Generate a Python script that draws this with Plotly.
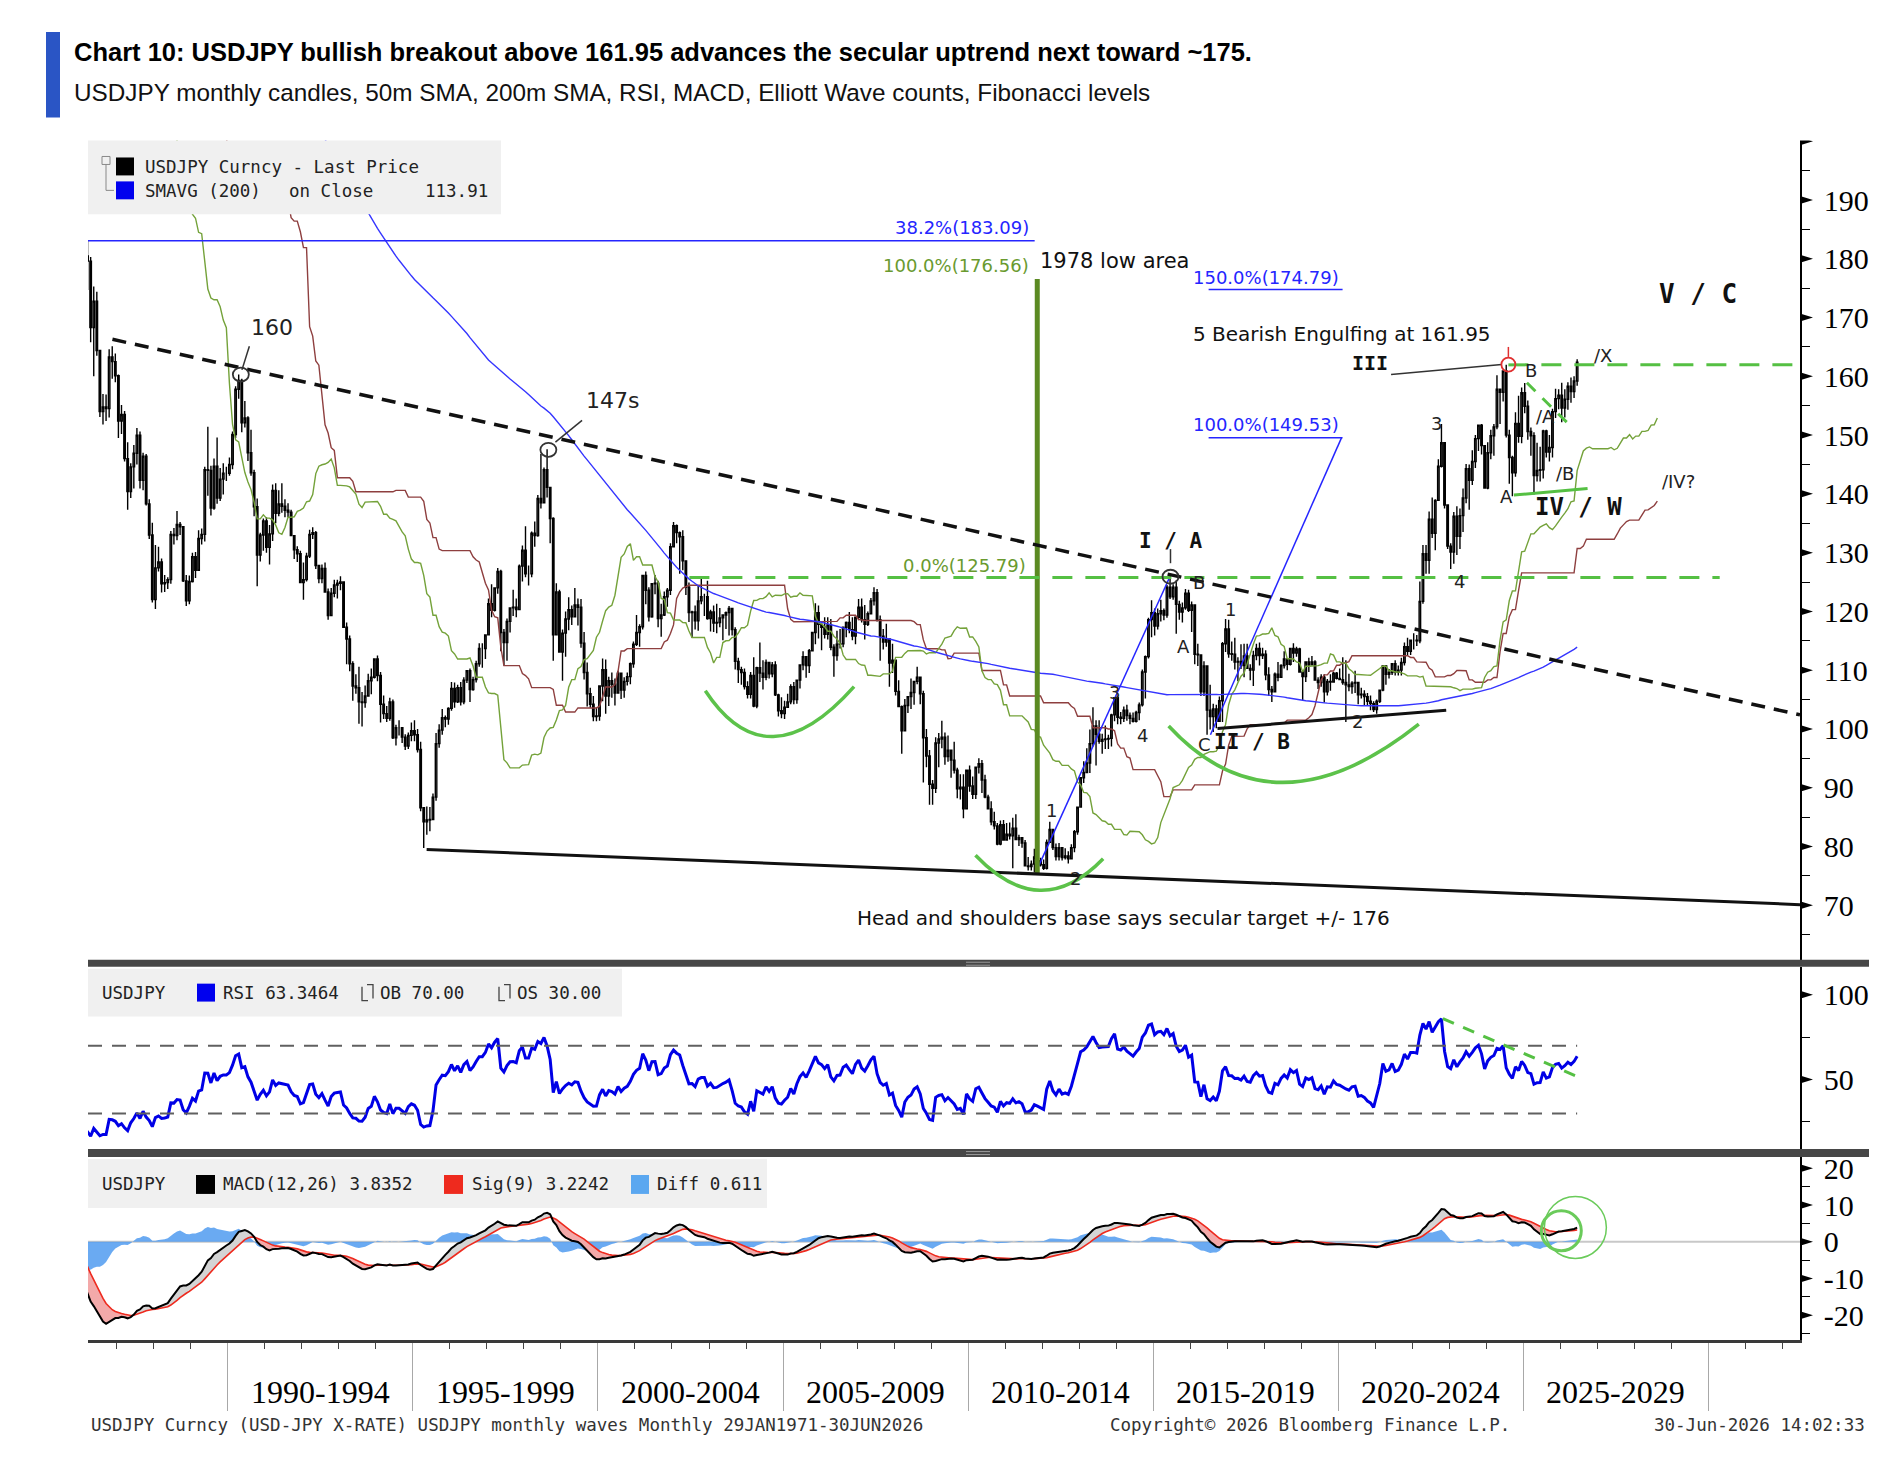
import numpy as np
import pandas as pd
import plotly.graph_objects as go

W, H = 1890, 1464

# ---------------- DATA: USDJPY monthly ----------------
# Monthly closes Jan 1971 - Dec 1983 (history used by the 200m SMA / oscillators only)
close_1971_1983 = [
    [357.5, 357.6, 357.5, 357.4, 357.4, 357.4, 357.3, 342.0, 335.0, 328.0, 327.0, 315.0],
    [308.0, 304.0, 301.0, 304.0, 302.0, 301.0, 301.0, 301.0, 301.0, 302.0, 301.0, 302.0],
    [301.0, 270.0, 263.0, 266.0, 265.0, 265.0, 264.0, 265.0, 266.0, 270.0, 278.0, 280.0],
    [298.0, 285.0, 277.0, 278.0, 281.0, 284.0, 298.0, 302.0, 298.0, 299.0, 300.0, 300.0],
    [297.0, 286.0, 291.0, 292.0, 291.0, 296.0, 297.0, 298.0, 302.0, 302.0, 302.0, 305.0],
    [304.0, 302.0, 299.0, 299.0, 300.0, 297.0, 293.0, 288.0, 287.0, 294.0, 295.0, 293.0],
    [288.0, 283.0, 277.0, 278.0, 276.0, 266.0, 267.0, 267.0, 265.0, 250.0, 245.0, 240.0],
    [241.0, 237.0, 222.0, 223.0, 223.0, 205.0, 190.0, 191.0, 189.0, 177.0, 197.0, 195.0],
    [199.0, 201.0, 209.0, 219.0, 220.0, 217.0, 217.0, 220.0, 224.0, 239.0, 249.0, 240.0],
    [238.0, 250.0, 249.0, 241.0, 223.0, 217.0, 222.0, 216.0, 210.0, 211.0, 214.0, 203.0],
    [204.0, 203.0, 210.0, 215.0, 224.0, 224.0, 239.0, 230.0, 231.0, 233.0, 216.0, 220.0],
    [229.0, 235.0, 247.0, 238.0, 238.0, 256.0, 256.0, 260.0, 268.0, 273.0, 247.0, 235.0],
    [235.0, 237.0, 239.0, 237.0, 239.0, 240.0, 241.0, 246.0, 236.0, 234.0, 235.0, 232.0],
]

# Monthly close / high / low, Jan 1984 - Jun 2026
close_1984_2026 = [
    [233.6, 233.5, 225.0, 225.8, 234.2, 237.5, 245.1, 241.9, 246.6, 245.9, 246.7, 251.1],
    [254.2, 259.0, 251.5, 251.8, 251.4, 248.8, 236.9, 237.1, 216.6, 211.6, 202.3, 200.5],
    [192.1, 180.5, 179.6, 168.3, 172.8, 164.4, 154.0, 154.8, 154.5, 163.3, 162.5, 160.1],
    [152.4, 153.5, 146.0, 140.4, 144.6, 146.9, 150.0, 142.3, 146.4, 138.3, 133.0, 122.0],
    [127.4, 128.4, 124.7, 124.9, 125.4, 133.1, 132.9, 134.8, 134.4, 125.2, 121.8, 125.1],
    [129.3, 127.0, 132.4, 133.1, 144.1, 144.0, 137.6, 144.7, 139.3, 142.5, 143.5, 143.5],
    [145.0, 150.1, 157.8, 159.3, 152.1, 152.9, 147.0, 143.6, 137.8, 129.6, 133.0, 135.4],
    [130.9, 133.2, 140.6, 136.7, 138.3, 137.9, 137.2, 136.9, 132.9, 130.5, 129.8, 124.9],
    [125.4, 129.4, 133.1, 133.4, 127.8, 125.6, 127.3, 123.3, 119.3, 123.1, 124.5, 124.8],
    [125.0, 117.3, 115.3, 111.1, 107.3, 107.0, 104.6, 104.5, 105.6, 108.2, 108.8, 111.9],
    [109.1, 104.2, 102.6, 101.8, 104.6, 98.5, 100.2, 100.2, 98.6, 97.1, 98.9, 99.7],
    [99.0, 96.5, 86.6, 84.2, 84.5, 84.6, 88.4, 97.5, 99.8, 101.9, 101.7, 103.5],
    [106.9, 104.6, 107.0, 104.6, 108.3, 109.9, 106.7, 108.4, 111.1, 113.7, 113.7, 116.0],
    [121.3, 120.2, 124.0, 126.8, 116.4, 114.7, 118.3, 120.6, 120.7, 120.3, 127.7, 130.4],
    [126.4, 126.4, 133.3, 132.9, 139.2, 138.5, 144.1, 141.1, 135.8, 116.0, 123.3, 113.1],
    [116.3, 118.7, 120.3, 119.1, 121.1, 120.7, 114.6, 109.6, 106.0, 104.2, 102.1, 102.2],
    [107.3, 110.1, 105.6, 108.2, 107.6, 106.1, 109.5, 106.6, 108.1, 108.9, 111.1, 114.4],
    [116.4, 117.4, 126.1, 123.6, 119.1, 124.7, 124.8, 118.8, 119.4, 122.5, 123.6, 131.0],
    [134.6, 133.4, 132.7, 128.6, 124.1, 119.8, 119.9, 118.4, 121.8, 122.5, 122.5, 118.8],
    [119.9, 118.0, 118.1, 118.9, 119.4, 119.8, 120.5, 116.9, 111.5, 110.1, 109.6, 107.2],
    [105.9, 109.1, 103.9, 110.4, 109.5, 108.8, 111.3, 109.4, 110.9, 105.8, 103.1, 102.6],
    [103.7, 104.6, 107.2, 105.0, 108.3, 110.9, 112.3, 110.8, 113.3, 116.4, 119.8, 117.8],
    [117.3, 116.1, 117.7, 113.9, 112.5, 114.4, 114.5, 117.3, 118.1, 116.9, 115.8, 119.0],
    [120.7, 118.6, 117.8, 119.6, 121.8, 123.2, 118.6, 115.8, 114.8, 115.3, 111.2, 111.7],
    [106.4, 103.8, 99.7, 104.0, 105.5, 106.2, 108.1, 108.8, 106.0, 98.5, 95.4, 90.6],
    [89.9, 97.6, 98.3, 98.6, 95.3, 96.4, 94.7, 93.0, 89.8, 90.1, 86.4, 93.0],
    [90.3, 88.9, 93.5, 94.1, 91.3, 88.4, 86.4, 84.2, 83.5, 80.4, 83.7, 81.1],
    [82.1, 81.8, 83.1, 81.2, 81.5, 80.6, 76.7, 76.6, 77.0, 78.2, 77.6, 76.9],
    [76.3, 80.7, 82.9, 79.8, 78.3, 79.8, 78.1, 78.4, 77.9, 79.8, 82.5, 86.7],
    [91.7, 92.6, 94.2, 97.5, 100.5, 99.1, 97.9, 98.2, 98.3, 98.4, 102.4, 105.3],
    [102.0, 101.8, 103.2, 102.3, 101.8, 101.3, 102.8, 104.1, 109.7, 112.3, 118.6, 119.8],
    [117.5, 119.6, 120.1, 119.4, 124.1, 122.5, 124.1, 121.2, 119.9, 120.6, 123.1, 120.2],
    [121.1, 112.7, 112.6, 106.3, 110.7, 103.2, 102.1, 103.4, 101.3, 104.8, 114.5, 117.0],
    [112.8, 112.7, 111.4, 111.5, 110.8, 112.4, 110.3, 110.0, 112.5, 113.7, 112.5, 112.7],
    [109.2, 106.7, 106.3, 109.3, 108.8, 110.8, 111.9, 111.0, 113.7, 112.9, 113.6, 109.7],
    [108.9, 111.4, 110.9, 111.4, 108.3, 107.9, 108.8, 106.3, 108.1, 108.0, 109.5, 108.6],
    [108.4, 107.9, 107.5, 107.2, 107.8, 107.9, 105.8, 105.9, 105.5, 104.7, 104.3, 103.3],
    [104.7, 106.6, 110.7, 109.3, 109.6, 111.1, 109.7, 110.0, 111.3, 114.0, 113.2, 115.1],
    [115.1, 115.0, 121.7, 129.8, 128.7, 135.7, 133.3, 138.9, 144.7, 148.7, 138.1, 131.1],
    [130.1, 136.2, 132.8, 136.3, 139.3, 144.3, 142.3, 145.5, 149.4, 151.7, 148.2, 141.0],
    [147.0, 149.9, 151.4, 157.8, 157.3, 160.9, 150.0, 146.2, 143.6, 152.0, 149.8, 157.2],
    [154.9, 150.6, 149.9, 143.1, 144.0, 144.1, 150.7, 147.1, 147.9, 154.0, 156.2, 156.8],
    [154.6, 156.1, 158.3, 157.4, 159.2, 162.4],
]
high_1984_2026 = [
    [235.0, 235.4, 233.6, 227.0, 236.0, 239.8, 246.3, 245.3, 247.2, 248.3, 248.1, 251.6],
    [255.5, 263.7, 259.7, 253.6, 252.4, 252.4, 248.8, 241.9, 243.4, 216.5, 213.3, 204.8],
    [203.4, 192.8, 183.1, 180.3, 175.3, 174.4, 164.4, 157.0, 156.9, 164.6, 165.1, 163.9],
    [160.3, 155.1, 154.1, 148.8, 145.2, 148.3, 151.2, 150.6, 147.0, 146.8, 139.1, 135.1],
    [131.3, 131.0, 129.0, 126.2, 125.8, 133.7, 134.2, 137.1, 135.2, 134.4, 126.2, 126.1],
    [130.0, 130.1, 133.8, 134.1, 144.6, 151.4, 144.8, 146.0, 149.6, 144.4, 145.2, 144.6],
    [146.2, 150.6, 158.3, 160.3, 159.6, 155.8, 153.2, 150.9, 144.1, 139.2, 133.4, 135.8],
    [136.0, 134.7, 141.6, 141.8, 140.6, 141.8, 139.1, 138.4, 137.3, 132.8, 131.1, 130.3],
    [128.3, 130.0, 133.9, 134.3, 133.7, 127.9, 128.0, 128.3, 123.9, 124.0, 125.4, 125.4],
    [126.0, 125.1, 118.1, 115.9, 111.5, 109.3, 110.6, 106.3, 107.4, 109.4, 110.3, 112.0],
    [112.5, 109.7, 105.7, 103.9, 105.3, 105.0, 100.7, 101.5, 100.1, 99.1, 99.4, 101.1],
    [101.5, 100.0, 97.8, 86.7, 86.8, 86.7, 89.0, 99.3, 100.8, 103.4, 102.3, 103.7],
    [108.0, 107.9, 107.5, 108.0, 108.8, 109.9, 110.3, 108.9, 111.6, 114.6, 114.6, 116.1],
    [122.2, 124.6, 124.0, 127.4, 127.1, 117.0, 118.8, 120.4, 123.7, 122.2, 128.0, 131.2],
    [134.5, 127.8, 133.6, 135.3, 139.8, 146.8, 144.5, 147.6, 139.6, 136.0, 124.8, 123.7],
    [116.9, 120.0, 122.4, 121.0, 124.0, 122.2, 122.1, 116.5, 111.3, 107.0, 105.6, 103.6],
    [107.3, 112.0, 111.8, 108.9, 109.6, 108.6, 109.9, 108.9, 108.8, 109.6, 111.3, 114.9],
    [119.4, 117.8, 126.2, 126.8, 124.1, 124.8, 126.2, 125.2, 121.3, 123.4, 124.0, 131.6],
    [135.2, 134.8, 133.6, 133.8, 128.6, 124.9, 120.1, 121.0, 124.4, 125.6, 123.0, 125.2],
    [120.3, 121.0, 121.3, 120.6, 119.4, 120.0, 120.9, 120.5, 117.3, 112.1, 110.6, 110.3],
    [108.1, 109.7, 112.2, 110.6, 114.7, 111.7, 111.8, 111.3, 111.4, 111.5, 106.0, 105.4],
    [104.8, 106.0, 107.6, 108.0, 108.4, 110.9, 113.2, 112.2, 113.6, 116.5, 121.4, 121.0],
    [117.8, 119.0, 119.0, 118.7, 114.4, 116.7, 117.0, 117.4, 118.3, 119.9, 119.0, 119.1],
    [122.1, 122.2, 121.1, 120.0, 122.3, 124.1, 123.8, 119.3, 117.0, 117.9, 115.0, 114.5],
    [110.5, 108.3, 104.0, 105.1, 105.6, 108.6, 108.2, 110.6, 108.5, 106.5, 100.0, 96.4],
    [91.3, 98.6, 99.3, 101.4, 99.4, 98.9, 96.0, 97.8, 93.4, 92.3, 92.3, 93.1],
    [93.8, 91.9, 93.6, 95.0, 94.7, 92.2, 88.8, 87.7, 85.9, 84.0, 84.4, 84.5],
    [84.0, 84.1, 84.9, 85.5, 82.0, 81.6, 81.1, 78.2, 77.6, 79.6, 78.3, 78.1],
    [77.8, 81.2, 84.2, 82.0, 80.5, 80.6, 79.7, 79.7, 79.2, 80.4, 82.8, 86.7],
    [91.8, 94.5, 96.7, 99.9, 103.7, 101.5, 101.5, 99.2, 100.6, 99.0, 102.6, 105.4],
    [105.4, 102.9, 103.8, 104.1, 102.8, 102.8, 103.1, 104.5, 110.1, 112.5, 118.9, 121.9],
    [120.5, 120.5, 122.0, 120.5, 124.5, 125.9, 124.6, 125.3, 121.8, 121.5, 123.8, 123.7],
    [121.7, 121.0, 114.5, 112.0, 111.5, 110.5, 107.5, 104.3, 104.1, 105.5, 114.8, 118.7],
    [118.6, 114.9, 115.5, 112.2, 114.4, 114.5, 114.5, 111.0, 113.3, 114.5, 114.7, 113.8],
    [113.4, 110.5, 107.3, 109.6, 111.4, 111.0, 113.2, 111.8, 113.7, 114.6, 114.0, 113.8],
    [110.0, 111.5, 112.1, 112.4, 111.7, 108.8, 109.3, 109.3, 108.5, 109.3, 109.7, 109.7],
    [110.3, 112.2, 111.7, 109.4, 108.1, 109.9, 107.9, 107.0, 106.6, 106.1, 105.7, 104.7],
    [105.0, 106.7, 110.9, 110.9, 110.2, 111.1, 111.7, 110.8, 112.1, 114.7, 115.5, 115.2],
    [116.3, 116.0, 125.1, 131.3, 131.3, 137.0, 139.4, 139.1, 145.9, 151.9, 148.8, 138.2],
    [131.6, 136.9, 137.9, 137.5, 140.9, 145.1, 145.0, 147.4, 150.0, 151.7, 151.9, 148.0],
    [148.8, 150.9, 151.9, 160.2, 157.9, 161.0, 161.95, 150.9, 146.5, 153.9, 156.7, 158.1],
    [158.87, 155.9, 151.3, 150.5, 148.7, 148.0, 150.9, 150.9, 150.0, 154.5, 157.9, 157.8],
    [158.9, 157.8, 159.0, 159.8, 160.0, 162.9],
]
low_1984_2026 = [
    [232.0, 232.5, 224.4, 223.5, 224.8, 232.4, 237.1, 237.8, 241.0, 243.2, 243.4, 245.0],
    [249.0, 254.0, 249.5, 246.3, 248.6, 247.1, 236.3, 235.3, 211.3, 207.5, 200.6, 199.5],
    [191.6, 179.5, 174.7, 165.8, 160.0, 163.5, 153.1, 151.8, 152.4, 153.0, 159.6, 159.0],
    [149.5, 150.2, 145.5, 137.3, 139.3, 140.9, 145.0, 140.9, 140.6, 138.0, 132.3, 121.5],
    [120.4, 126.8, 123.2, 123.3, 123.8, 124.7, 131.4, 132.1, 133.0, 125.0, 120.9, 121.2],
    [124.9, 125.7, 127.2, 131.4, 131.9, 139.7, 136.3, 137.3, 138.3, 138.8, 139.9, 142.2],
    [143.1, 144.2, 149.5, 156.2, 150.5, 151.3, 145.6, 143.1, 136.2, 124.3, 128.5, 130.3],
    [130.0, 128.0, 132.0, 135.0, 136.2, 136.8, 136.0, 136.0, 132.9, 128.9, 128.4, 125.1],
    [122.0, 125.1, 129.1, 132.3, 127.2, 124.8, 124.8, 123.3, 118.6, 119.6, 122.4, 122.2],
    [123.6, 117.2, 111.0, 109.8, 104.8, 106.0, 100.9, 100.4, 103.6, 105.5, 105.9, 108.6],
    [108.1, 101.1, 101.7, 101.2, 101.4, 98.3, 97.2, 98.9, 97.6, 96.4, 96.6, 97.9],
    [97.9, 96.0, 86.0, 79.75, 82.0, 82.6, 84.9, 87.8, 96.8, 99.0, 100.3, 100.7],
    [103.1, 103.6, 104.4, 104.0, 104.2, 107.8, 104.6, 106.5, 107.9, 110.6, 110.4, 111.9],
    [116.0, 119.0, 120.0, 123.0, 113.2, 110.8, 111.6, 116.4, 119.2, 119.0, 120.9, 125.1],
    [125.8, 124.4, 125.8, 131.0, 132.7, 137.5, 138.4, 139.4, 131.6, 111.6, 117.2, 113.1],
    [108.2, 112.3, 116.8, 117.7, 119.3, 117.6, 113.8, 108.4, 103.8, 103.6, 101.3, 101.3],
    [101.4, 104.7, 102.6, 103.9, 105.3, 104.0, 106.3, 105.1, 105.3, 107.4, 107.6, 110.4],
    [114.1, 114.0, 116.9, 121.2, 118.3, 118.9, 122.9, 117.3, 115.7, 119.2, 120.8, 122.8],
    [131.0, 131.6, 126.4, 127.0, 122.8, 118.2, 115.5, 116.9, 116.7, 121.2, 119.2, 118.6],
    [116.6, 116.5, 116.3, 117.3, 115.1, 117.0, 115.9, 115.9, 110.1, 107.8, 107.5, 106.7],
    [105.2, 105.2, 103.7, 103.5, 108.0, 106.7, 108.3, 108.6, 108.8, 105.6, 102.1, 101.8],
    [101.7, 103.8, 104.2, 104.2, 104.3, 106.9, 110.0, 108.7, 109.5, 113.4, 114.4, 115.4],
    [113.4, 115.4, 115.2, 113.4, 108.9, 111.6, 113.7, 113.9, 115.6, 116.3, 115.1, 114.4],
    [118.5, 118.1, 115.2, 117.5, 119.6, 121.0, 118.3, 111.6, 113.5, 114.0, 107.2, 109.5],
    [105.7, 103.8, 95.8, 99.9, 102.7, 103.4, 104.1, 107.6, 104.2, 90.9, 93.5, 87.1],
    [87.1, 89.1, 93.5, 96.7, 93.9, 94.4, 91.7, 92.4, 88.2, 88.0, 84.8, 86.5],
    [89.3, 88.1, 88.1, 92.4, 89.1, 88.2, 86.3, 83.6, 82.9, 80.2, 80.2, 81.1],
    [81.2, 81.2, 76.3, 81.1, 80.1, 79.8, 76.6, 75.9, 75.9, 75.57, 76.6, 76.6],
    [76.0, 76.1, 81.0, 79.4, 77.6, 77.6, 77.6, 77.8, 77.1, 77.9, 79.0, 82.0],
    [86.6, 90.8, 93.0, 92.5, 97.0, 93.8, 97.5, 95.8, 96.6, 96.6, 97.0, 101.3],
    [100.8, 100.8, 101.2, 101.4, 100.8, 101.1, 101.1, 101.5, 103.8, 105.2, 112.0, 115.6],
    [115.9, 116.9, 118.3, 118.5, 118.9, 122.1, 122.0, 116.2, 118.6, 118.1, 120.3, 119.9],
    [116.5, 111.0, 110.7, 105.6, 105.6, 99.02, 99.9, 99.5, 100.1, 101.2, 101.2, 113.1],
    [112.1, 111.6, 110.1, 108.1, 110.2, 108.8, 110.6, 108.3, 107.3, 111.7, 110.8, 111.9],
    [108.3, 105.6, 104.6, 106.6, 108.1, 109.2, 110.3, 110.0, 110.8, 111.4, 112.3, 109.6],
    [104.9, 108.0, 109.7, 110.8, 108.3, 106.8, 107.2, 104.5, 105.7, 106.5, 108.2, 108.4],
    [108.3, 107.5, 101.2, 106.4, 106.0, 106.1, 104.2, 105.2, 104.0, 104.0, 103.2, 102.9],
    [102.6, 104.4, 106.4, 107.5, 108.6, 109.2, 109.1, 109.1, 109.1, 110.8, 112.5, 112.6],
    [113.5, 114.1, 114.6, 121.3, 126.4, 126.4, 132.5, 130.4, 138.8, 144.5, 137.5, 130.6],
    [127.22, 128.1, 129.6, 130.6, 133.5, 138.4, 137.3, 141.5, 144.4, 147.3, 146.7, 140.9],
    [140.8, 145.9, 146.5, 151.0, 151.9, 155.7, 149.6, 141.7, 139.58, 142.9, 148.7, 148.6],
    [153.7, 149.2, 146.5, 139.89, 142.1, 142.1, 142.6, 146.2, 145.5, 146.2, 152.9, 154.4],
    [152.2, 153.0, 154.3, 155.5, 156.3, 158.4],
]

# Legend / footer texts (as printed on the chart)
legend_main = ["USDJPY Curncy - Last Price", "SMAVG (200)", "on Close", "113.91"]
rsi_legend = ["USDJPY", "RSI 63.3464", "OB 70.00", "OS 30.00"]
macd_legend = ["USDJPY", "MACD(12,26) 3.8352", "Sig(9) 3.2242", "Diff 0.611"]
period_labels = ["1990-1994", "1995-1999", "2000-2004", "2005-2009",
                 "2010-2014", "2015-2019", "2020-2024", "2025-2029"]
period_starts = [1990, 1995, 2000, 2005, 2010, 2015, 2020, 2025]
price_ticks = [70, 80, 90, 100, 110, 120, 130, 140, 150, 160, 170, 180, 190]
rsi_ticks = [50, 100]
macd_ticks = [-20, -10, 0, 10, 20]

# Chart annotations (technical drawing levels)
fib_levels = {"38.2%(183.09)": 183.09, "100.0%(176.56)": 176.56, "150.0%(174.79)": 174.79,
              "100.0%(149.53)": 149.53, "0.0%(125.79)": 125.79}
resist_line = [(1986.88, 166.3), (2032.48, 102.4)]
support_line = [(1995.37, 79.5), (2032.48, 70.1)]
iib_line = [(2016.74, 100.07), (2022.92, 103.2)]
ivw_line = [(2024.75, 139.8), (2026.74, 140.9)]
wedge_line = [(2025.10, 158.9), (2026.32, 151.3)]
fib1_line = [(2011.83, 75.6), (2015.45, 125.86)]
fib2_line = [(2016.55, 99.02), (2020.09, 149.53)]
fib_seg_x = (2016.50, 2020.12)
fib382_end = 2011.80
low1978_x, low1978_bottom = 2011.87, 75.4
level12579_x = (2002.47, 2030.31)
level16195_x0 = 2024.60
arcs = [[(2002.90, 106.5), (2004.74, 98.7), (2006.92, 107.2)],
        [(2010.20, 78.5), (2011.94, 72.55), (2013.65, 77.9)],
        [(2015.42, 100.5), (2018.53, 90.9), (2022.18, 100.8)]]
circles_black = [(1990.35, 160.3), (1998.66, 147.5), (2015.47, 125.9)]
circle_red = (2024.60, 162.0)
rsi_div_line = [(2022.83, 85.9), (2026.40, 52.4)]
macd_circles = [(2026.41, 3.9, 31, 1.5), (2026.03, 3.0, 20, 3)]

wave_txt = ["B", "A", "4", "C", "1", "2", "3", "4", "B", "/A", "/X", "/B", "A", "/IV?", "1", "2", "3"]
wave_x = [2016.23, 2015.82, 2014.71, 2016.40, 2017.08, 2020.51, 2022.66, 2023.29, 2025.22,
          2025.60, 2027.17, 2026.14, 2024.56, 2029.20, 2012.25, 2012.91, 2013.97]
wave_y = [124.95, 114.0, 98.8, 97.4, 120.3, 101.2, 152.0, 125.1, 161.0,
          153.1, 163.5, 143.5, 139.5, 142.1, 86.1, 74.5, 106.2]
degree_txt = ["I / A", "II / B", "III", "IV / W", "V / C"]
degree_x = [2015.48, 2017.68, 2020.85, 2026.50, 2029.72]
degree_y = [131.9, 97.7, 162.3, 137.8, 174.0]
degree_size = [21, 21, 20, 24, 26]

# ---------------- derived series ----------------
pre = [v for row in close_1971_1983 for v in row]
c84 = [v for row in close_1984_2026 for v in row]
h84 = [v for row in high_1984_2026 for v in row]
l84 = [v for row in low_1984_2026 for v in row]
closes = np.array(pre + c84, dtype=float)
highs = np.array(pre + h84, dtype=float)   # no recorded range before 1984: close stands in
lows = np.array(pre + l84, dtype=float)
N = len(closes)
xpos = 1971 + (np.arange(N) + 0.5) / 12.0

opens = np.concatenate([[closes[0]], closes[:-1]])
cs = pd.Series(closes)
sma200 = cs.rolling(200).mean().values
delta = cs.diff().fillna(0)
up = delta.clip(lower=0).ewm(alpha=1 / 14, adjust=False).mean()
dn = (-delta).clip(lower=0).ewm(alpha=1 / 14, adjust=False).mean()
rsi = (100 - 100 / (1 + up / dn)).values
ema12 = cs.ewm(span=12, adjust=False).mean()
ema26 = cs.ewm(span=26, adjust=False).mean()
macd = (ema12 - ema26).values
sig = pd.Series(macd).ewm(span=9, adjust=False).mean().values
diff = macd - sig
hs, ls = pd.Series(highs), pd.Series(lows)
tenkan = (hs.rolling(9).max() + ls.rolling(9).min()) / 2
kijun = (hs.rolling(26).max() + ls.rolling(26).min()) / 2
spanA = ((tenkan + kijun) / 2).values
spanB = ((hs.rolling(52).max() + ls.rolling(52).min()) / 2).values
xshift = xpos + 26 / 12.0

XR = [1986.22, 2032.48]
vis = xpos >= 1985.5
vis_s = xshift >= 1985.5
x_last = xpos[-1]

# ---------------- helpers ----------------
def px(p):
    return p / W

def py(p):
    return 1 - p / H

MONO = "DejaVu Sans Mono"
SANS = "DejaVu Sans"
SERIF = "Liberation Serif"
HEAD = "Liberation Sans, Arial, sans-serif"

ann = []
shapes = []

def text(t, x, y, size, color="#111", family=SANS, xref="paper", yref="paper",
         xanchor="left", yanchor="middle", bold=False):
    ann.append(dict(text=("<b>%s</b>" % t) if bold else t, x=x, y=y, xref=xref, yref=yref,
                    xanchor=xanchor, yanchor=yanchor, showarrow=False,
                    font=dict(size=size, color=color, family=family)))

def rect_px(x0, y0, x1, y1, color, layer="above"):
    shapes.append(dict(type="rect", xref="paper", yref="paper", x0=px(x0), x1=px(x1),
                       y0=py(y0), y1=py(y1), fillcolor=color, line=dict(width=0), layer=layer))

def seg(p0, p1, yref="y", color="black", width=2, dash="solid"):
    shapes.append(dict(type="line", xref="x", yref=yref, x0=p0[0], y0=p0[1], x1=p1[0], y1=p1[1],
                       line=dict(color=color, width=width, dash=dash)))

# ---------------- traces ----------------
fig = go.Figure()
fig.add_trace(go.Candlestick(
    x=xpos[vis], open=opens[vis], high=np.maximum(highs, np.maximum(opens, closes))[vis],
    low=np.minimum(lows, np.minimum(opens, closes))[vis], close=closes[vis],
    increasing=dict(line=dict(color="black", width=1.4), fillcolor="white"),
    decreasing=dict(line=dict(color="black", width=1.4), fillcolor="black"),
    whiskerwidth=0, xaxis="x", yaxis="y", hoverinfo="skip"))
fig.add_trace(go.Scatter(x=xshift[vis_s], y=spanB[vis_s], mode="lines",
                         line=dict(color="#8e3f3f", width=1.4), xaxis="x", yaxis="y"))
fig.add_trace(go.Scatter(x=xshift[vis_s], y=spanA[vis_s], mode="lines",
                         line=dict(color="#74a23a", width=1.4), xaxis="x", yaxis="y"))
fig.add_trace(go.Scatter(x=xpos[vis], y=sma200[vis], mode="lines",
                         line=dict(color="#3535ff", width=1.4), xaxis="x", yaxis="y"))

# RSI
fig.add_trace(go.Scatter(x=xpos[vis], y=rsi[vis], mode="lines",
                         line=dict(color="#0000e6", width=3), xaxis="x", yaxis="y2"))

# MACD
xv = xpos[vis]
fig.add_trace(go.Scatter(x=xv, y=diff[vis], mode="lines", fill="tozeroy", fillcolor="rgba(80,155,240,0.85)",
                         line=dict(width=0, color="rgba(80,155,240,0.85)"), xaxis="x", yaxis="y3"))
top = np.maximum(macd, sig)[vis]
fig.add_trace(go.Scatter(x=xv, y=macd[vis], mode="lines", line=dict(width=0), xaxis="x", yaxis="y3"))
fig.add_trace(go.Scatter(x=xv, y=top, mode="lines", fill="tonexty", fillcolor="#f3a9a9",
                         line=dict(width=0), xaxis="x", yaxis="y3"))
fig.add_trace(go.Scatter(x=xv, y=sig[vis], mode="lines", line=dict(width=0), xaxis="x", yaxis="y3"))
fig.add_trace(go.Scatter(x=xv, y=top, mode="lines", fill="tonexty", fillcolor="#d4d4d4",
                         line=dict(width=0), xaxis="x", yaxis="y3"))
fig.add_trace(go.Scatter(x=xv, y=sig[vis], mode="lines", line=dict(color="#ee2a1e", width=1.6),
                         xaxis="x", yaxis="y3"))
fig.add_trace(go.Scatter(x=xv, y=macd[vis], mode="lines", line=dict(color="black", width=2),
                         xaxis="x", yaxis="y3"))

# ---------------- main-panel drawings ----------------
BLUE = "#2525ff"
GREEN = "#55c043"
OLIVE = "#5b8a22"
seg((XR[0], fib_levels["38.2%(183.09)"]), (fib382_end, fib_levels["38.2%(183.09)"]), color=BLUE, width=1.5)
seg((fib_seg_x[0], fib_levels["150.0%(174.79)"]), (fib_seg_x[1], fib_levels["150.0%(174.79)"]), color=BLUE, width=1.5)
seg((fib_seg_x[0], fib_levels["100.0%(149.53)"]), (fib_seg_x[1], fib_levels["100.0%(149.53)"]), color=BLUE, width=1.5)
seg(fib1_line[0], fib1_line[1], color=BLUE, width=1.5)
seg(fib2_line[0], fib2_line[1], color=BLUE, width=1.5)
seg((low1978_x, low1978_bottom), (low1978_x, fib_levels["100.0%(176.56)"]), color=OLIVE, width=5)
seg((level12579_x[0], fib_levels["0.0%(125.79)"]), (level12579_x[1], fib_levels["0.0%(125.79)"]),
    color=GREEN, width=3, dash="20px,13px")
seg((level16195_x0, 161.95), (XR[1], 161.95), color=GREEN, width=3, dash="20px,13px")
seg(wedge_line[0], wedge_line[1], color=GREEN, width=3, dash="12px,10px")
seg(ivw_line[0], ivw_line[1], color=GREEN, width=3)
seg(resist_line[0], resist_line[1], color="#111", width=3.5, dash="14px,9px")
seg(support_line[0], support_line[1], color="#111", width=3)
seg(iib_line[0], iib_line[1], color="#111", width=3)
# leader lines to labels
seg((1990.38, 161.1), (1990.58, 165.1), color="#333", width=1.5)
seg((1998.85, 148.8), (1999.57, 152.5), color="#333", width=1.5)
seg((2021.43, 160.3), (2024.42, 162.0), color="#333", width=1.5)
seg((2015.47, 128.2), (2015.47, 130.6), color="#333", width=1.5)
seg((2024.60, 163.3), (2024.60, 165.0), color="#e03030", width=1.5)

for p0, pm, p2 in arcs:
    cx = 2 * pm[0] - 0.5 * (p0[0] + p2[0])
    cy = 2 * pm[1] - 0.5 * (p0[1] + p2[1])
    shapes.append(dict(type="path", xref="x", yref="y",
                       path="M%f,%f Q%f,%f %f,%f" % (p0[0], p0[1], cx, cy, p2[0], p2[1]),
                       line=dict(color="#5cc24a", width=3.5)))
for (cxv, cyv) in circles_black:
    shapes.append(dict(type="circle", xref="x", yref="y", xsizemode="pixel", ysizemode="pixel",
                       xanchor=cxv, yanchor=cyv, x0=-8, x1=8, y0=-7, y1=7,
                       line=dict(color="#333", width=1.8)))
shapes.append(dict(type="circle", xref="x", yref="y", xsizemode="pixel", ysizemode="pixel",
                   xanchor=circle_red[0], yanchor=circle_red[1], x0=-7, x1=7, y0=-7, y1=7,
                   line=dict(color="#e03030", width=1.8)))

# RSI levels and divergence line
for lv in (70, 30):
    seg((XR[0], lv), (x_last, lv), yref="y2", color="#606060", width=2, dash="14px,10px")
seg(rsi_div_line[0], rsi_div_line[1], yref="y2", color=GREEN, width=3, dash="12px,10px")
# MACD zero line and circles
shapes.append(dict(type="line", xref="paper", yref="y3", x0=px(88), x1=px(1800), y0=0, y1=0,
                   line=dict(color="#c8c8c8", width=2), layer="below"))
for (cxv, cyv, r, wdt) in macd_circles:
    shapes.append(dict(type="circle", xref="x", yref="y3", xsizemode="pixel", ysizemode="pixel",
                       xanchor=cxv, yanchor=cyv, x0=-r, x1=r, y0=-r, y1=r,
                       line=dict(color="#6acb5a", width=wdt)))

# axis flag ticks
for yref, vals in (("y", price_ticks + [200]), ("y2", rsi_ticks), ("y3", macd_ticks)):
    for v in vals:
        shapes.append(dict(type="path", xref="paper", yref=yref, xsizemode="pixel", ysizemode="pixel",
                           xanchor=px(1800), yanchor=v, path="M0,4 L13,0 L0,-4 Z",
                           fillcolor="black", line=dict(width=0)))

# panel separators
rect_px(88, 958, 1869, 965, "#474747")
rect_px(88, 1148, 1869, 1156, "#474747")
rect_px(966, 960, 990, 961, "#9a9a9a")
rect_px(966, 963, 990, 964, "#9a9a9a")
rect_px(966, 1150, 990, 1151, "#9a9a9a")
rect_px(966, 1153, 990, 1154, "#9a9a9a")

# title bar
rect_px(46, 27, 60, 113, "#2a55c5")
text("Chart 10: USDJPY bullish breakout above 161.95 advances the secular uptrend next toward ~175.",
     px(72), py(47), 25.5, "#000", HEAD, bold=True)
text("USDJPY monthly candles, 50m SMA, 200m SMA, RSI, MACD, Elliott Wave counts, Fibonacci levels",
     px(72), py(88), 24.3, "#111", HEAD)

# legend boxes
rect_px(88, 136, 501, 210, "#f0f0f0")
shapes.append(dict(type="rect", xref="paper", yref="paper", x0=px(102), x1=px(110), y0=py(152), y1=py(160),
                   line=dict(color="#888", width=1)))
shapes.append(dict(type="path", xref="paper", yref="paper",
                   path="M%f,%f L%f,%f L%f,%f" % (px(106), py(160), px(106), py(186), px(114), py(186)),
                   line=dict(color="#888", width=1)))
rect_px(116, 153, 134, 171, "#000000")
rect_px(116, 177, 134, 195, "#0000ee")
text(legend_main[0], px(143), py(163), 17.5, "#222", MONO)
text(legend_main[1], px(143), py(187), 17.5, "#222", MONO)
text(legend_main[2], px(287), py(187), 17.5, "#222", MONO)
text(legend_main[3], px(490), py(187), 17.5, "#222", MONO, xanchor="right")

rect_px(88, 967, 622, 1015, "#f0f0f0")
text(rsi_legend[0], px(100), py(991), 17.5, "#222", MONO)
rect_px(197, 982, 215, 1000, "#0000ee")
text(rsi_legend[1], px(221), py(991), 17.5, "#222", MONO)
for bx in (362, 499):
    shapes.append(dict(type="path", xref="paper", yref="paper",
                       path="M%f,%f L%f,%f L%f,%f M%f,%f L%f,%f L%f,%f" % (
                           px(bx), py(985), px(bx), py(999), px(bx + 6), py(999),
                           px(bx + 5), py(983), px(bx + 11), py(983), px(bx + 11), py(997)),
                       line=dict(color="#444", width=1.3)))
text(rsi_legend[2], px(378), py(991), 17.5, "#222", MONO)
text(rsi_legend[3], px(515), py(991), 17.5, "#222", MONO)

rect_px(88, 1158, 767, 1207, "#f0f0f0")
text(macd_legend[0], px(100), py(1183), 17.5, "#222", MONO)
rect_px(196, 1174, 215, 1193, "#000000")
text(macd_legend[1], px(221), py(1183), 17.5, "#222", MONO)
rect_px(444, 1174, 463, 1193, "#ee2a1e")
text(macd_legend[2], px(470), py(1183), 17.5, "#222", MONO)
rect_px(631, 1174, 649, 1193, "#5aa7f0")
text(macd_legend[3], px(655), py(1183), 17.5, "#222", MONO)

# period labels on the time axis
for lab, s in zip(period_labels, period_starts):
    text(lab, s + 2.5, py(1392), 32, "#000", SERIF, xref="x", xanchor="center")

# footer
text("USDJPY Curncy (USD-JPY X-RATE) USDJPY monthly waves Monthly 29JAN1971-30JUN2026",
     px(89), py(1425), 17.5, "#333", MONO)
text("Copyright\u00a9 2026 Bloomberg Finance L.P.", px(1108), py(1425), 17.5, "#333", MONO)
text("30-Jun-2026 14:02:33", px(1867), py(1425), 17.5, "#333", MONO, xanchor="right")

# level labels
text("38.2%(183.09)", 2011.70, 185.4, 18, BLUE, SANS, xref="x", yref="y", xanchor="right")
text("100.0%(176.56)", 2011.70, 178.8, 18, "#6a9a2f", SANS, xref="x", yref="y", xanchor="right")
text("1978 low area", 2011.88, 179.6, 21, "#111", SANS, xref="x", yref="y")
text("150.0%(174.79)", 2016.03, 176.8, 18, BLUE, SANS, xref="x", yref="y")
text("100.0%(149.53)", 2016.03, 151.85, 18, BLUE, SANS, xref="x", yref="y")
text("0.0%(125.79)", 2011.63, 127.8, 18, "#6a9a2f", SANS, xref="x", yref="y", xanchor="right")
text("5 Bearish Engulfing at 161.95", 2016.03, 167.2, 20, "#111", SANS, xref="x", yref="y")
text("160", 1991.18, 168.3, 22, "#222", SANS, xref="x", yref="y", xanchor="center")
text("147s", 2000.40, 155.9, 22, "#222", SANS, xref="x", yref="y", xanchor="center")
text("Head and shoulders base says secular target +/- 176", 2014.2, 67.9, 20, "#111", SANS,
     xref="x", yref="y", xanchor="center")
for t, xx, yy in zip(wave_txt, wave_x, wave_y):
    text(t, xx, yy, 18, "#222", SANS, xref="x", yref="y", xanchor="center")
for t, xx, yy, sz in zip(degree_txt, degree_x, degree_y, degree_size):
    text(t, xx, yy, sz, "#111", MONO, xref="x", yref="y", xanchor="center", bold=True)

TICKFONT = dict(family=SERIF, size=30, color="#000")
def yax(dom, rng, tv, minor_vals):
    return dict(domain=[py(dom[1]), py(dom[0])], range=rng, side="right", anchor="x",
                showgrid=False, zeroline=False, tickvals=tv, ticktext=[str(v) for v in tv],
                ticks="outside", ticklen=16, tickcolor="rgba(0,0,0,0)", tickfont=TICKFONT,
                showline=True, linecolor="#000", linewidth=1.5, fixedrange=True,
                minor=dict(tickvals=minor_vals, ticks="outside", ticklen=8, tickcolor="#000", tickwidth=1))

fig.update_layout(
    width=W, height=H, autosize=False, margin=dict(l=0, r=0, t=0, b=0),
    paper_bgcolor="white", plot_bgcolor="white", showlegend=False,
    xaxis=dict(domain=[px(88), px(1800)], range=XR, anchor="y3", showgrid=False, zeroline=False,
               showticklabels=False, ticks="outside", tickvals=list(range(1990, 2035, 5)),
               ticklen=68, tickcolor="#a8a8a8", tickwidth=1,
               minor=dict(tickvals=list(range(1987, 2033)), ticks="outside", ticklen=6,
                          tickcolor="#444", tickwidth=1),
               showline=True, linecolor="#3a3a3a", linewidth=3, fixedrange=True,
               rangeslider=dict(visible=False)),
    yaxis=yax((136, 958), [60.73, 200.12], price_ticks, list(range(65, 200, 10))),
    yaxis2=yax((965, 1148), [9.0, 116.6], rsi_ticks, [25, 75]),
    yaxis3=yax((1156, 1340), [-26.83, 23.04], macd_ticks, [-25, -15, -5, 5, 15]),
    shapes=shapes, annotations=ann,
)
fig.write_html("out.html")
